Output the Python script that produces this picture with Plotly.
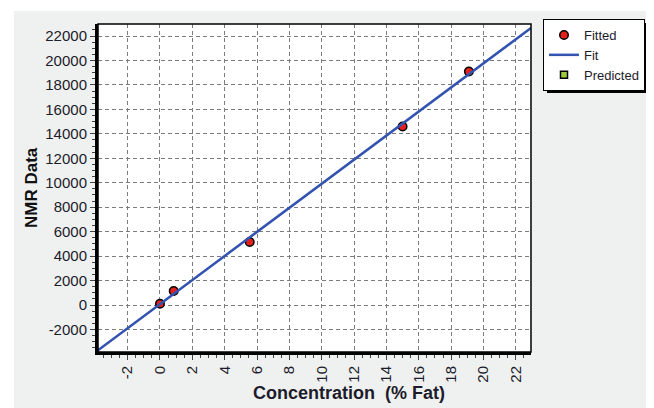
import plotly.graph_objects as go

# Data
fitted_x = [0.0, 0.85, 5.55, 15.0, 19.1]
fitted_y = [100, 1150, 5150, 14600, 19100]
fit_x = [-3.83, 22.94]
fit_y = [-3700, 22650]
x_ticks = list(range(-2, 23, 2))
y_ticks = list(range(-2000, 22001, 2000))

OFF = 8  # browser default body margin
W, H = 654 - OFF, 408 - OFF
# plot area in screen pixels (reference)
SL, SR, ST, SB = 98, 531, 24, 352
L, R, T, B = SL - OFF, SR - OFF, ST - OFF, SB - OFF

def px(xs):
    return (xs - SL) / (SR - SL)

def py(ys):
    return (SB - ys) / (SB - ST)

fig = go.Figure()
fig.add_trace(go.Scatter(
    x=fitted_x, y=fitted_y, mode="markers", name="Fitted",
    marker=dict(symbol="circle", size=8.5, color="#e4201c",
                line=dict(color="black", width=1.5)),
))
fig.add_trace(go.Scatter(
    x=fit_x, y=fit_y, mode="lines", name="Fit",
    line=dict(color="#3353b0", width=2.5),
))
fig.add_trace(go.Scatter(
    x=[None], y=[None], mode="markers", name="Predicted",
    marker=dict(symbol="square", size=7, color="#9ccc3c",
                line=dict(color="black", width=1.5)),
))

tickfont = dict(family="Liberation Sans, Arial", size=15, color="#1c1c2a")
gridc = "#7c7c7c"

fig.update_xaxes(
    range=[-3.83, 22.94], tickvals=x_ticks, ticktext=[str(v) for v in x_ticks],
    tickangle=-90, tickfont=tickfont, automargin=False,
    ticks="outside", ticklen=5, tickcolor="#444",
    minor=dict(dtick=0.5, ticks="outside", ticklen=3, tickcolor="#444", showgrid=False),
    showgrid=True, gridcolor=gridc, gridwidth=1, griddash="4px,3px",
    showline=True, linecolor="black", linewidth=3, zeroline=False,
)
fig.update_yaxes(
    range=[-3844, 22981], tickvals=y_ticks, ticktext=[str(v) for v in y_ticks],
    tickfont=tickfont, automargin=False,
    ticks="outside", ticklen=5, tickcolor="#444",
    minor=dict(dtick=500, ticks="outside", ticklen=3, tickcolor="#444", showgrid=False),
    showgrid=True, gridcolor=gridc, gridwidth=1, griddash="4px,3px",
    showline=True, linecolor="black", linewidth=3, zeroline=False,
)

shapes = [
    # gray panel background
    dict(type="rect", xref="paper", yref="paper", layer="below",
         x0=px(14), x1=px(660), y0=py(11), y1=py(420),
         fillcolor="#eff1f1", line=dict(width=0)),
    # white plot area
    dict(type="rect", xref="paper", yref="paper", layer="below",
         x0=0, x1=1, y0=0, y1=1, fillcolor="white", line=dict(width=0)),
    # thin frame
    dict(type="rect", xref="paper", yref="paper", layer="above",
         x0=0, x1=1, y0=0, y1=1, line=dict(color="black", width=1.5)),
    # legend shadow
    dict(type="rect", xref="paper", yref="paper", layer="above",
         x0=px(547), x1=px(646), y0=py(23), y1=py(93),
         fillcolor="black", line=dict(width=0)),
]

annotations = [
    dict(text="<b>Concentration  (% Fat)</b>", xref="paper", yref="paper",
         x=px(349), y=py(393), xanchor="center", yanchor="middle", showarrow=False,
         font=dict(family="Liberation Sans, Arial", size=18, color="#1c1c2a")),
    dict(text="<b>NMR Data</b>", xref="paper", yref="paper",
         x=px(31), y=py(188), xanchor="center", yanchor="middle",
         showarrow=False, textangle=-90,
         font=dict(family="Liberation Sans, Arial", size=17, color="#111")),
]

fig.update_layout(
    width=W, height=H,
    margin=dict(l=L, r=W - R, t=T, b=H - B, pad=0, autoexpand=False),
    paper_bgcolor="white", plot_bgcolor="rgba(0,0,0,0)",
    showlegend=True,
    legend=dict(x=px(543), y=py(19), xanchor="left", yanchor="top",
                bgcolor="white", bordercolor="black", borderwidth=1,
                font=dict(family="Liberation Sans, Arial", size=13, color="#1c1c2a"),
                itemwidth=30, tracegroupgap=0, traceorder="normal"),
    shapes=shapes, annotations=annotations,
)

fig.write_html("out.html")
